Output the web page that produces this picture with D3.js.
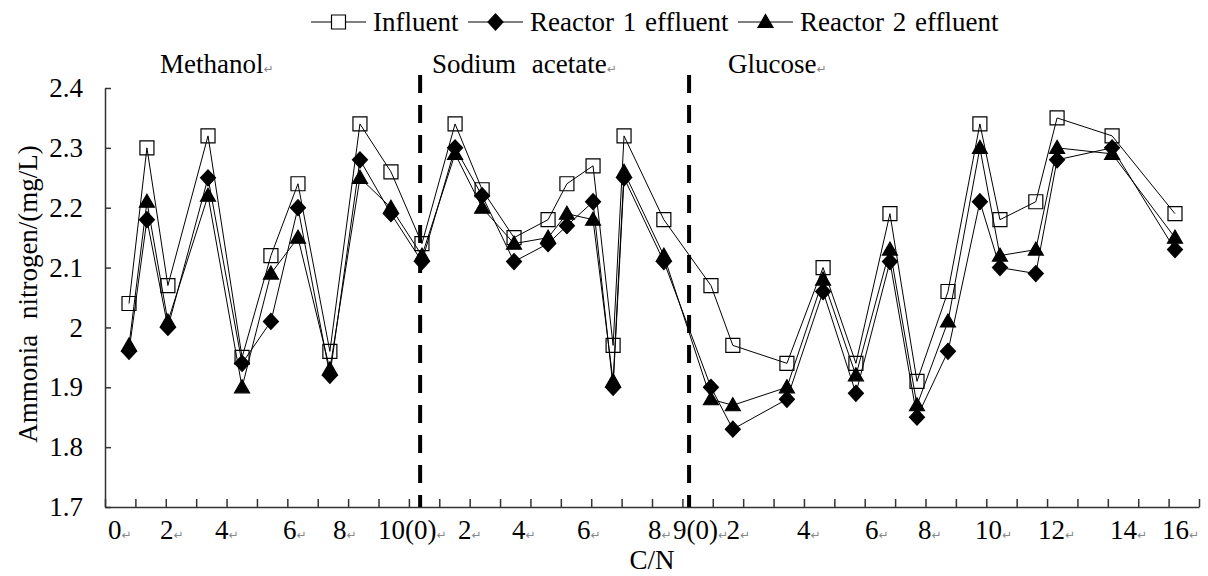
<!DOCTYPE html>
<html lang="en">
<head>
<meta charset="UTF-8" />
<title>Ammonia nitrogen vs C/N</title>
<script src="https://d3js.org/d3.v7.min.js"></script>
<style>
  body { margin: 0; background: #fff; }
  svg { display: block; font-family: "Liberation Serif", "Times New Roman", serif; }
  .lbl { font-size: 27px; fill: #000; word-spacing: 2px; }
  .wide { word-spacing: 9px; }
  .ret { font-size: 12px; fill: #888; font-family: "DejaVu Sans", sans-serif; }
  .axis path, .axis line { stroke: #333; stroke-width: 1.5px; }
  .series { fill: none; stroke: #000; stroke-width: 1px; }
  .divider { stroke: #000; stroke-width: 4px; stroke-dasharray: 18 12; }
</style>
</head>
<body>
<svg width="1208" height="576"></svg>
<script>
// x position of each sample along the C/N axis (axis units, 36 minor ticks)
const xPos = [0.79, 1.38, 2.07, 3.39, 4.51, 5.46, 6.35, 7.40, 8.39, 9.41, 10.43,
  11.52, 12.41, 13.46, 14.58, 15.20, 16.06, 16.72, 17.08, 18.39,
  19.94, 20.66, 22.44, 23.63, 24.71, 25.83, 26.72, 27.74, 28.79, 29.45, 30.63, 31.33, 33.14, 35.21];

const influent = [2.04, 2.30, 2.07, 2.32, 1.95, 2.12, 2.24, 1.96, 2.34, 2.26, 2.14,
  2.34, 2.23, 2.15, 2.18, 2.24, 2.27, 1.97, 2.32, 2.18,
  2.07, 1.97, 1.94, 2.10, 1.94, 2.19, 1.91, 2.06, 2.34, 2.18, 2.21, 2.35, 2.32, 2.19];
const reactor1 = [1.96, 2.18, 2.00, 2.25, 1.94, 2.01, 2.20, 1.92, 2.28, 2.19, 2.11,
  2.30, 2.22, 2.11, 2.14, 2.17, 2.21, 1.90, 2.25, 2.11,
  1.90, 1.83, 1.88, 2.06, 1.89, 2.11, 1.85, 1.96, 2.21, 2.10, 2.09, 2.28, 2.30, 2.13];
const reactor2 = [1.97, 2.21, 2.01, 2.22, 1.90, 2.09, 2.15, 1.93, 2.25, 2.20, 2.12,
  2.29, 2.20, 2.14, 2.15, 2.19, 2.18, 1.91, 2.26, 2.12,
  1.88, 1.87, 1.90, 2.08, 1.92, 2.13, 1.87, 2.01, 2.30, 2.12, 2.13, 2.30, 2.29, 2.15];

const seriesNames = ["Influent", "Reactor 1 effluent", "Reactor 2 effluent"];
const xTickLabels = ["0", "2", "4", "6", "8", "10(0)", "2", "4", "6", "8", "9(0)", "2", "4", "6", "8", "10", "12", "14", "16"];
const xTickPos = [0.10, 1.81, 3.62, 5.86, 7.50, 8.98, 11.62, 13.39, 15.53, 17.87, 18.69, 20.45, 22.77, 25.01, 26.75, 28.63, 30.70, 33.07, 34.78];
const yTicks = [1.7, 1.8, 1.9, 2.0, 2.1, 2.2, 2.3, 2.4];
const phases = ["Methanol", "Sodium acetate", "Glucose"];
const phasePos = [1.81, 10.76, 20.5];
const phaseBreaks = [10.37, 19.22];

const svg = d3.select("svg");
svg.append("rect").attr("width", 1208).attr("height", 576).attr("fill", "#fff");

const x = d3.scaleLinear().domain([0, 36]).range([105, 1199]);
const y = d3.scaleLinear().domain([1.7, 2.4]).range([507, 88]);

// marker shapes
const shapes = [
  "M-7,-7h14v14h-14z",
  "M0,-8L7.5,0L0,8L-7.5,0Z",
  "M0,-7.5L7.5,5.5L-7.5,5.5Z"
];
const fills = ["none", "#000", "#000"];

// axes
svg.append("g").attr("class", "axis")
  .attr("transform", "translate(0,507)")
  .call(d3.axisBottom(x).tickValues(d3.range(0, 37)).tickSize(-8).tickSizeOuter(0).tickFormat(""));

const yAxis = svg.append("g").attr("class", "axis")
  .attr("transform", "translate(105,0)")
  .call(d3.axisLeft(y).tickValues(yTicks).tickSize(-6).tickSizeOuter(0).tickPadding(22).tickFormat(d3.format("~g")));
yAxis.attr("font-family", null).attr("font-size", null);
yAxis.selectAll("text").attr("class", "lbl");

// x tick labels (typed under the axis, with paragraph marks)
const xl = svg.append("g").selectAll("text")
  .data(xTickLabels)
  .join("text")
  .attr("class", "lbl")
  .attr("x", (d, i) => x(xTickPos[i]))
  .attr("y", 539);
xl.append("tspan").text(d => d);
xl.append("tspan").attr("class", "ret").text("\u21B5");

// phase dividers
svg.append("g").selectAll("line")
  .data(phaseBreaks)
  .join("line")
  .attr("class", "divider")
  .attr("x1", d => x(d)).attr("x2", d => x(d))
  .attr("y1", 75).attr("y2", 507);

// phase names
const ph = svg.append("g").selectAll("text")
  .data(phases)
  .join("text")
  .attr("class", "lbl wide")
  .attr("x", (d, i) => x(phasePos[i]))
  .attr("y", 73);
ph.append("tspan").text(d => d);
ph.append("tspan").attr("class", "ret").text("\u21B5");

// series
const allSeries = [influent, reactor1, reactor2];
const line = d3.line().x((d, i) => x(xPos[i])).y(d => y(d));

allSeries.forEach((vals, s) => {
  const g = svg.append("g");
  g.append("path").datum(vals).attr("class", "series").attr("d", line);
  g.selectAll("path.mk")
    .data(vals)
    .join("path")
    .attr("class", "mk")
    .attr("d", shapes[s])
    .attr("transform", (d, i) => `translate(${x(xPos[i])},${y(d)})`)
    .attr("fill", fills[s])
    .attr("stroke", "#000")
    .attr("stroke-width", 1.2);
});

// legend
const legendX = [311, 468, 738];
const leg = svg.append("g").selectAll("g")
  .data(seriesNames)
  .join("g")
  .attr("transform", (d, i) => `translate(${legendX[i]},22)`);
leg.append("line").attr("x1", 0).attr("x2", 55).attr("stroke", "#000").attr("stroke-width", 1);
leg.append("path")
  .attr("d", (d, i) => shapes[i])
  .attr("transform", "translate(27.5,0)")
  .attr("fill", (d, i) => i === 0 ? "#fff" : "#000")
  .attr("stroke", "#000").attr("stroke-width", 1.2);
leg.append("text").attr("class", "lbl").attr("x", 62).attr("y", 9).text(d => d);

// axis titles
svg.append("text").attr("class", "lbl wide")
  .attr("transform", "translate(37,294) rotate(-90)")
  .attr("text-anchor", "middle")
  .text("Ammonia nitrogen/(mg/L)");
svg.append("text").attr("class", "lbl")
  .attr("x", 652).attr("y", 569)
  .attr("text-anchor", "middle")
  .text("C/N");
</script>
</body>
</html>
